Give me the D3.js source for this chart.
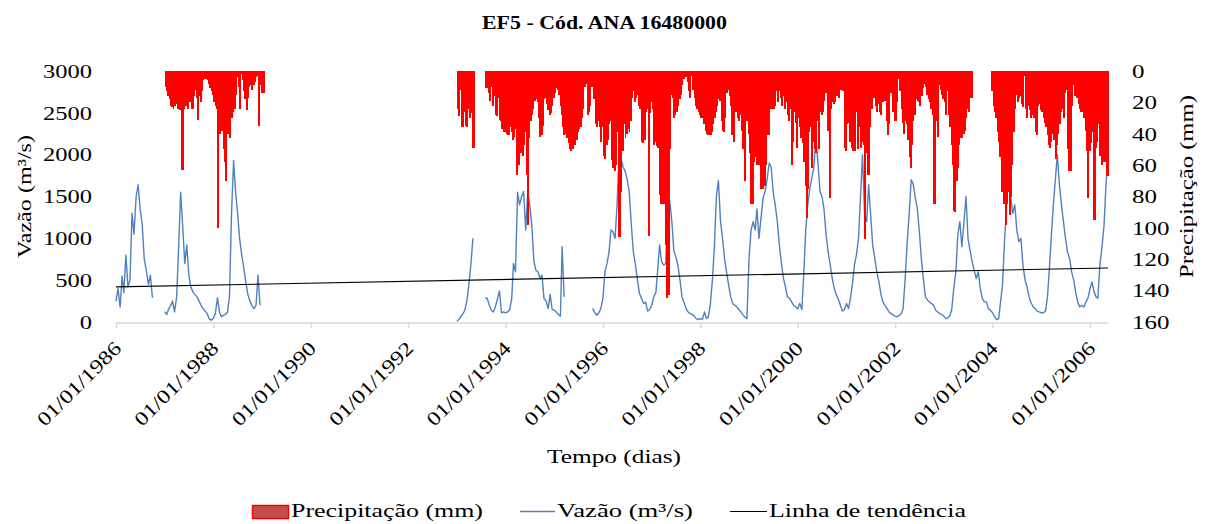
<!DOCTYPE html>
<html>
<head>
<meta charset="utf-8">
<script src="https://cdn.jsdelivr.net/npm/d3@7/dist/d3.min.js"></script>
<style>
    body { margin: 0; background: #fff; }
</style>
</head>
<body>
<div id="wrapper"></div>
<script>
// Vazão (m³/s) - valores quinzenais (dia 1 e 16 de cada mês), null = sem dado
const vazao1986 = [250, 400, 180, 550, 350, 800, 420, 500, 1300, 1050, 1500, 1640, 1350, 1180, 750, 620, 450, 560, 290];
const vazao1987 = [123, 90, 160, 200, 250, 120, 300, 900, 1550, 1150, 700, 920, 560, 420, 360, 330, 300, 250, 200, 160, 130, 100, 40, 20];
const vazao1988 = [44, 100, 290, 120, 64, 80, 90, 120, 300, 1280, 1930, 1550, 1300, 1000, 800, 650, 470, 330, 250, 200, 160, 200, 560, 200];
const vazao1993 = [10, 30, 70, 100, 140, 250, 450, 700, 1000, null, null, null, null, null, 283, 283, 200, 140, 120, 180, 280, 370, 110, 120];
const vazao1994 = [110, 120, 150, 280, 700, 600, 1550, 1400, 1500, 1560, 1100, 1550, 1400, 1170, 730, 620, 600, 520, 560, 280, 250, 160, 330, 150];
const vazao1995 = [140, 120, 90, 70, 900, 300, null, null, null, null, null, null, null, null, null, null, null, null, null, 163, 110, 80, 110, 160];
const vazao1996 = [283, 600, 700, 840, 1100, 1080, 1000, 1400, 2000, 1950, 1850, 1800, 1700, 1560, 1160, 840, 680, 500, 340, 283, 220, 240, 130, 150];
const vazao1997 = [200, 300, 350, 650, 920, 720, 680, 700, 1400, 1450, 1200, 850, 780, 680, 500, 300, 230, 160, 120, 100, 90, 70, 40, 30];
const vazao1998 = [40, 30, 120, 40, 60, 200, 500, 900, 1500, 1690, 1200, 1000, 760, 600, 440, 300, 220, 200, 180, 150, 120, 84, 60, 40];
const vazao1999 = [760, 1100, 1200, 1100, 1350, 1000, 1250, 1480, 1560, 1700, 1900, 1850, 1550, 1400, 1200, 920, 700, 520, 420, 300, 283, 240, 200, 180];
const vazao2000 = [160, 220, 150, 600, 1100, 1400, 1600, 1720, 1850, 2200, 1900, 1560, 1500, 1350, 1040, 840, 680, 520, 400, 330, 270, 200, 130, 150];
const vazao2001 = [220, 160, 300, 480, 680, 800, 1000, 1500, 2000, 1300, 1200, 1640, 1280, 920, 760, 600, 480, 330, 240, 200, 160, 120, 100, 84];
const vazao2002 = [70, 64, 80, 100, 160, 500, 950, 1300, 1700, 1650, 1480, 1360, 1080, 760, 500, 300, 260, 240, 220, 200, 140, 120, 100, 90];
const vazao2003 = [70, 40, 50, 80, 150, 400, 600, 1050, 1200, 900, 1200, 1500, 1000, 860, 720, 620, 520, 600, 400, 283, 240, 240, 160, 140];
const vazao2004 = [110, 64, 30, 40, 240, 450, 1000, 1400, 1900, 1500, 1300, 1400, 1100, 960, 1000, 680, 500, 420, 300, 230, 180, 160, 130, 120];
const vazao2005 = [110, 110, 130, 300, 600, 1000, 1400, 1700, 2000, 1650, 1400, 1200, 1000, 840, 760, 600, 500, 350, 240, 180, 200, 180, 240, 283];
const vazao2006 = [400, 480, 360, 300, 283, 680, 900, 1150, 1640, 2030];

// Precipitação (mm) - valores por decêndio (dia 1, 11 e 21), null = sem dado
const chuva1987 = [10, 13, 16, 18, 22, 23, 24, 22, 21, 24, 15, 25, 63, 63, 24, 22, 18, 24, 20, 17, 24, 16, 12, 17, 31, 16, 20, 13, 6, 5, 5, 6, 8, 11, 13, 15];
const chuva1988 = [20, 22, 24, 100, 40, 34, 38, 50, 58, 70, 40, 24, 43, 30, 26, 24, 15, 4, 10, 24, 2, 6, 13, 18, 25, 17, 10, 9, 12, 9, 7, 4, 3, 35, 9, 14];
const chuva1989 = [14, 14];
const chuva1993 = [24, 29, 12, 36, 36, 26, 35, 36, 24, 30, 27, 49, 49, null, null, null, null, null, null, null, null, 11, 11, 14, 19, 10, 22, 16, 28, 29, 17, 31, 32, 37, 39, 39];
const chuva1994 = [40, 41, 41, 36, 39, 44, 42, 37, 66, 60, 51, 52, 54, 47, 39, 66, 98, 43, 32, 28, 24, 19, 18, 20, 30, 42, 41, 35, 18, 17, 21, 25, 28, 27, 22, 17];
const chuva1995 = [14, 11, 12, 15, 22, 28, 36, 41, 40, 43, 46, 50, 51, 50, 45, 47, 44, 39, 37, 36, 30, 24, 10, 8, 28, 26, 22, 10, 3, 18, 34, 36, 32, 36, 45, 36];
const chuva1996 = [54, 56, 47, 44, 34, 32, 57, 62, 64, 60, 39, 106, 106, 77, 51, 34, 43, 40, 37, 39, 32, 17, 13, 20, 17, 15, 22, 24, 45, 46, 44, 26, 24, 105, 27, 20];
const chuva1997 = [24, 47, 45, 48, 49, 79, 85, 85, 85, 85, 111, 145, 143, 50, 15, 17, 30, 28, 26, 22, 18, 15, 9, 5, 3, 4, 7, 13, 17, 3, 12, 17, 22, 24, 26, 28];
const chuva1998 = [30, 30, 34, 38, 40, 41, 41, 41, 39, 34, 30, 26, 22, 18, 19, 32, 38, 39, 30, 14, 12, 16, 22, 41, 45, 26, 26, 30, 32, 28, 38, 50, 70, 30, 32, 40];
const chuva1999 = [52, 85, 85, 58, 55, 60, 49, 60, 75, 75, 75, 73, 60, 41, 41, 24, 24, 24, 24, 22, 13, 20, 13, 17, 22, 16, 24, 20, 28, 32, 24, 60, 45, 26, 33, 49];
const chuva2000 = [30, 36, 43, 46, 58, 73, 94, 75, 39, 36, 62, 45, 50, 52, 32, 50, 26, 28, 26, 19, 14, 14, 38, 81, 24, 20, 21, 20, 16, 9, 17, 12, 5, 13, 49, 51];
const chuva2001 = [34, 33, 45, 49, 51, 41, 51, 26, 50, 36, 49, 45, 47, 107, 52, 66, 66, 36, 24, 15, 17, 22, 26, 21, 26, 28, 20, 5, 19, 32, 41, 34, 14, 10, 26, 32];
const chuva2002 = [32, 20, 5, 13, 24, 33, 40, 32, 34, 44, 55, 62, 47, 32, 28, 18, 19, 20, 22, 16, 11, 8, 10, 15, 18, 20, 24, 28, 85, 85, 32, 42, 9, 12, 15, 18];
const chuva2003 = [20, 28, 13, 28, 36, 47, 60, 89, 90, 70, 62, 47, 43, 43, 40, 38, 30, 24, 26, 17, 17, null, null, null, null, null, null, null, null, null, null, null, null, null, null, 13];
const chuva2004 = [22, 26, 30, 39, 45, 55, 77, 77, 85, 98, 85, 77, 92, 80, 60, 39, 24, 15, 20, 17, 16, 21, 23, 3, 24, 30, 22, 25, 30, 28, 30, 39, 41, 22, 21, 25];
const chuva2005 = [26, 30, 33, 36, 41, 47, 49, 45, 40, 44, 56, 47, 40, 34, 26, 24, 30, 14, 12, 50, 64, 64, 22, 9, 16, 14, 17, 21, 24, 26, 26, 30, 38, 51, 81, 51];
const chuva2006 = [46, 39, 95, 95, 49, 45, 34, 54, 60, 54, 58, 58, 66, 67];

// Linha de tendência (extremos)
const tendenciaDatas = ["1986-01-01", "2006-05-16"];
const tendenciaValores = [420, 645];

// Eixos
const tickAnos = [1986, 1988, 1990, 1992, 1994, 1996, 1998, 2000, 2002, 2004, 2006];
const ticksVazao = [0, 500, 1000, 1500, 2000, 2500, 3000];
const ticksChuva = [0, 20, 40, 60, 80, 100, 120, 140, 160];

const fonte = "'Liberation Serif', 'Times New Roman', 'DejaVu Serif', serif";
const tamanho = "19.5px";

function fitTo(sel, width) {
    sel.attr("textLength", width).attr("lengthAdjust", "spacingAndGlyphs");
}

function buildPlot() {
    const dimension = {
        width: 1208,
        height: 524,
        margin: { top: 71, left: 116, bottom: 202, right: 100 }
    };
    dimension.boundedWidth = dimension.width - dimension.margin.left - dimension.margin.right;
    dimension.boundedHeight = dimension.height - dimension.margin.top - dimension.margin.bottom;

    const vazaoPorAno = {1986: vazao1986, 1987: vazao1987, 1988: vazao1988, 1993: vazao1993, 1994: vazao1994,
        1995: vazao1995, 1996: vazao1996, 1997: vazao1997, 1998: vazao1998, 1999: vazao1999, 2000: vazao2000,
        2001: vazao2001, 2002: vazao2002, 2003: vazao2003, 2004: vazao2004, 2005: vazao2005, 2006: vazao2006};
    const chuvaPorAno = {1987: chuva1987, 1988: chuva1988, 1989: chuva1989, 1993: chuva1993, 1994: chuva1994,
        1995: chuva1995, 1996: chuva1996, 1997: chuva1997, 1998: chuva1998, 1999: chuva1999, 2000: chuva2000,
        2001: chuva2001, 2002: chuva2002, 2003: chuva2003, 2004: chuva2004, 2005: chuva2005, 2006: chuva2006};

    const anos = d3.range(1986, 2007);
    const serieVazao = [];
    anos.forEach(a => {
        const vals = vazaoPorAno[a];
        if (!vals) { serieVazao.push({ data: new Date(a, 0, 1), v: null }); return; }
        d3.range(24).forEach(i => serieVazao.push({
            data: new Date(a, Math.floor(i / 2), i % 2 ? 16 : 1),
            v: vals[i] ?? null
        }));
    });
    const serieChuva = [];
    anos.forEach(a => {
        const vals = chuvaPorAno[a];
        if (!vals) return;
        vals.forEach((v, k) => {
            if (v == null) return;
            const m = Math.floor(k / 3), d = 1 + 10 * (k % 3);
            const fim = k % 3 === 2 ? new Date(a, m + 1, 1) : new Date(a, m, d + 10);
            serieChuva.push({ data: new Date(a, m, d), fim: fim, v: v });
        });
    });

    const svg = d3.select("#wrapper").append("svg")
        .attr("width", dimension.width)
        .attr("height", dimension.height)
        .style("font-family", fonte);

    const xScaler = d3.scaleTime()
        .domain([new Date(1986, 0, 1), new Date(2006, 4, 16)])
        .range([dimension.margin.left, dimension.margin.left + dimension.boundedWidth]);
    const yScaler = d3.scaleLinear()
        .domain([0, 3000])
        .range([dimension.margin.top + dimension.boundedHeight, dimension.margin.top]);
    const yChuva = d3.scaleLinear()
        .domain([0, 160])
        .range([dimension.margin.top, dimension.margin.top + dimension.boundedHeight]);

    const textStyle = sel => sel.style("font-family", fonte).style("font-size", tamanho).attr("fill", "#000");

    // eixo x
    const xAxisGen = d3.axisBottom(xScaler)
        .tickValues(tickAnos.map(a => new Date(a, 0, 1)))
        .tickFormat(d3.timeFormat("%d/%m/%Y"))
        .tickSize(6)
        .tickSizeOuter(0);
    const xAxis = svg.append("g")
        .attr("transform", `translate(0,${dimension.margin.top + dimension.boundedHeight + 0.5})`)
        .call(xAxisGen)
        .attr("font-family", null);
    xAxis.select(".domain").attr("stroke", "#D9D9D9").attr("stroke-width", 1.5);
    xAxis.selectAll(".tick line").attr("stroke", "#D9D9D9").attr("stroke-width", 1.5);
    xAxis.selectAll(".tick text")
        .attr("x", 0).attr("y", 0).attr("dy", 0)
        .attr("text-anchor", "end")
        .attr("transform", "translate(6,27) rotate(-45)")
        .call(textStyle)
        .call(fitTo, 110);

    // eixo esquerdo
    const yAxis = svg.append("g")
        .attr("transform", `translate(${dimension.margin.left},0)`)
        .call(d3.axisLeft(yScaler).tickValues(ticksVazao).tickFormat(d3.format("d")).tickSize(0).tickPadding(24))
        .attr("font-family", null);
    yAxis.select(".domain").remove();
    yAxis.selectAll(".tick text")
        .call(textStyle)
        .each(function (d) { d3.select(this).call(fitTo, String(d).length * 12.25); });

    // eixo direito
    const y2Axis = svg.append("g")
        .attr("transform", `translate(${dimension.margin.left + dimension.boundedWidth},0)`)
        .call(d3.axisRight(yChuva).tickValues(ticksChuva).tickFormat(d3.format("d")).tickSize(0).tickPadding(24))
        .attr("font-family", null);
    y2Axis.select(".domain").remove();
    y2Axis.selectAll(".tick text")
        .call(textStyle)
        .each(function (d) { d3.select(this).call(fitTo, String(d).length * 12.5); });

    // vazão
    const lineGen = d3.line()
        .defined(d => d.v != null)
        .x(d => xScaler(d.data))
        .y(d => yScaler(d.v));
    svg.append("path")
        .datum(serieVazao)
        .attr("d", lineGen)
        .attr("fill", "none")
        .attr("stroke", "#4F81BD")
        .attr("stroke-width", 1.4)
        .attr("stroke-linejoin", "round");

    // tendência
    const serieTend = tendenciaDatas.map((d, i) => ({ data: d3.timeParse("%Y-%m-%d")(d), v: tendenciaValores[i] }));
    svg.append("path")
        .datum(serieTend)
        .attr("d", lineGen)
        .attr("fill", "none")
        .attr("stroke", "#000")
        .attr("stroke-width", 1.1);

    // precipitação
    svg.append("g")
        .attr("shape-rendering", "crispEdges")
        .selectAll("rect")
        .data(serieChuva)
        .enter()
        .append("rect")
        .attr("x", d => xScaler(d.data))
        .attr("y", yChuva(0))
        .attr("width", d => d3.max([1, xScaler(d.fim) - xScaler(d.data) + 0.6]))
        .attr("height", d => yChuva(d.v) - yChuva(0))
        .attr("fill", "#FF0000");

    // títulos
    svg.append("text")
        .attr("x", 604.5).attr("y", 29)
        .attr("text-anchor", "middle")
        .call(textStyle)
        .style("font-weight", "bold")
        .text("EF5 - Cód. ANA 16480000")
        .call(fitTo, 245);
    svg.append("text")
        .attr("transform", "translate(31,196.5) rotate(-90)")
        .attr("text-anchor", "middle")
        .call(textStyle)
        .text("Vazão (m³/s)")
        .call(fitTo, 123);
    svg.append("text")
        .attr("transform", "translate(1193,186.5) rotate(-90)")
        .attr("text-anchor", "middle")
        .call(textStyle)
        .text("Precipitação (mm)")
        .call(fitTo, 183);
    svg.append("text")
        .attr("x", 614).attr("y", 463)
        .attr("text-anchor", "middle")
        .call(textStyle)
        .text("Tempo (dias)")
        .call(fitTo, 134);

    // legenda
    const legend = svg.append("g");
    legend.append("rect")
        .attr("x", 252.5).attr("y", 505.5).attr("width", 36).attr("height", 13)
        .attr("fill", "#C0504D").attr("stroke", "#FF0000").attr("stroke-width", 1.5);
    legend.append("text").attr("x", 291).attr("y", 517).call(textStyle)
        .text("Precipitação (mm)").call(fitTo, 192);
    legend.append("line")
        .attr("x1", 520).attr("x2", 555).attr("y1", 511.5).attr("y2", 511.5)
        .attr("stroke", "#4F81BD").attr("stroke-width", 1.4);
    legend.append("text").attr("x", 557).attr("y", 517).call(textStyle)
        .text("Vazão (m³/s)").call(fitTo, 136);
    legend.append("line")
        .attr("x1", 730).attr("x2", 767).attr("y1", 511.5).attr("y2", 511.5)
        .attr("stroke", "#000").attr("stroke-width", 1.1);
    legend.append("text").attr("x", 769).attr("y", 517).call(textStyle)
        .text("Linha de tendência").call(fitTo, 197);
}

buildPlot();
</script>
</body>
</html>
